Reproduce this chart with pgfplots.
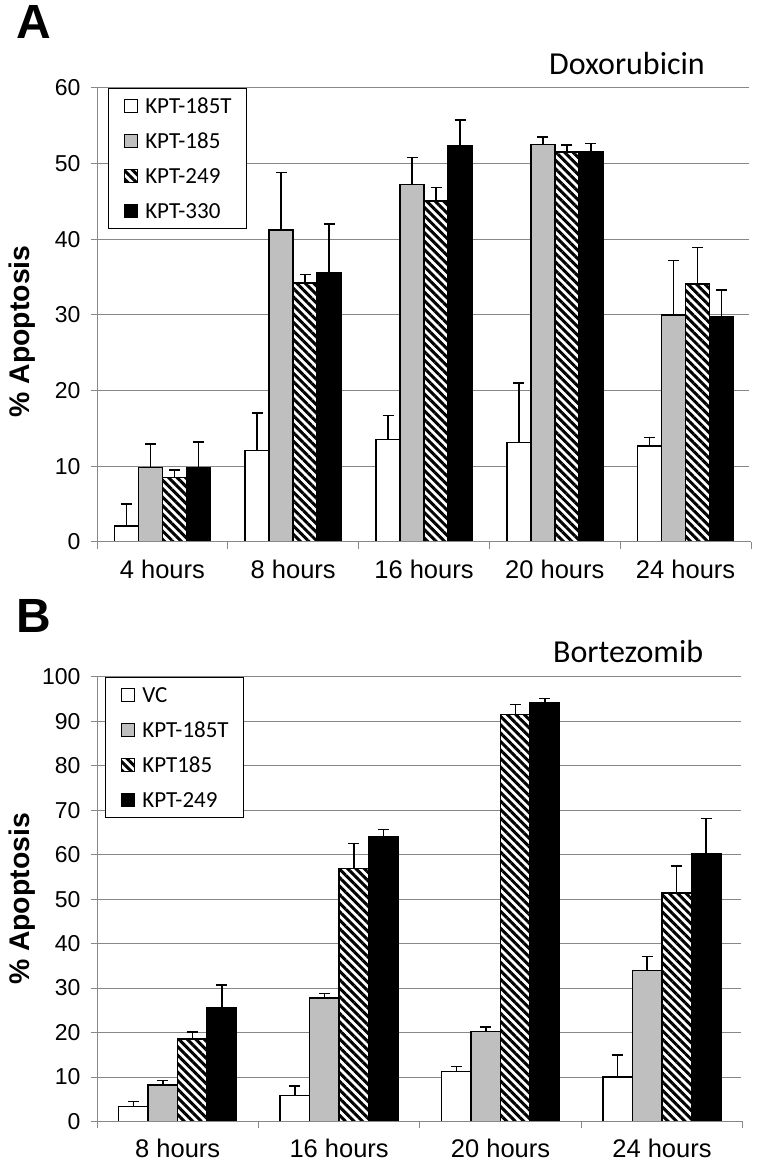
\documentclass[border=0pt]{standalone}
\usepackage{fontspec}
\setmainfont{Liberation Sans}
\newfontfamily\calibri{Carlito}
\usepackage{pgfplots}
\pgfplotsset{compat=1.18}
\usetikzlibrary{patterns.meta}
\definecolor{gridgray}{HTML}{888888}
\definecolor{bargray}{HTML}{BFBFBF}

\pgfplotsset{
  mybars/.style={
    scale only axis,
    ybar=0pt,
    ymin=0, xmin=-0.5,
    axis line style={draw opacity=0, line width=0.1pt},
    xtick pos=left, ytick pos=left,
    ymajorgrids, grid style={draw=gridgray, line width=1pt},
    tick align=outside,
    tick style={draw=gridgray, line width=1pt},
    major x tick style={draw=none, draw opacity=0},
    major tick length=6pt,
    /pgf/number format/assume math mode=true,
    yticklabel style={font=\fontsize{23}{23}\selectfont, xshift=-7pt},
    xticklabel style={font=\fontsize{25.5}{25.5}\selectfont, inner sep=0pt},
    error bars/y dir=plus, error bars/y explicit,
    error bars/error bar style={black, line width=1.5pt},
    error bars/error mark options={rotate=90, black, line width=1.5pt, mark size=5.5pt},
    legend image code/.code={\draw[##1, line width=1.2pt] (0pt,-6.9pt) rectangle (13.5pt,6.6pt);},
    legend cell align=left,
    legend style={draw=black, line width=1.2pt, anchor=north west,
      font=\calibri\fontsize{23}{23}\selectfont,
      nodes={inner sep=0pt, text height=19pt, text depth=4pt},
      row sep=12pt, inner ysep=6pt, inner xsep=15pt,
      /tikz/every odd column/.style={column sep=7pt}},
  },
  frame/.style={
    after end axis/.code={
      \draw[gridgray, line width=1pt] (rel axis cs:0,1) -- (rel axis cs:0,0) -- (rel axis cs:1,0);
      \foreach \b in {#1} {\draw[gridgray, line width=1pt] (axis cs:\b,0) -- ++(0pt,-7pt);}
    }
  },
  wbar/.style={draw=black, line width=1.5pt, fill=white},
  gbar/.style={draw=black, line width=1.5pt, fill=bargray},
  hbar/.style={draw=black, line width=1.5pt, fill=white,
    postaction={pattern={Lines[angle=-45,distance=6pt,line width=3pt]}}},
  kbar/.style={draw=black, line width=1.5pt, fill=black},
}

\begin{document}
\begin{tikzpicture}[x=1pt,y=1pt]
\path[use as bounding box] (0,0) rectangle (760,1166);

% Panel A
\begin{axis}[mybars, at={(97pt,624.1pt)}, anchor=south west,
  width=654pt, height=454.2pt, xmax=4.5, ymax=60,
  ytick={0,10,...,60},
  xtick={0,1,2,3,4},
  xticklabels={4 hours,8 hours,16 hours,20 hours,24 hours},
  xticklabel style={yshift=-12pt},
  frame={-0.5,0.5,1.5,2.5,3.5,4.5},
  bar width=24pt,
  legend style={at={(axis description cs:0.0168,1)}}]
\addplot[wbar] coordinates {(0,2.1) +- (0,2.9) (1,12.1) +- (0,4.9) (2,13.5) +- (0,3.2) (3,13.1) +- (0,7.9) (4,12.7) +- (0,1.1)};
\addplot[gbar] coordinates {(0,9.8) +- (0,3.1) (1,41.2) +- (0,7.6) (2,47.2) +- (0,3.6) (3,52.5) +- (0,1.0) (4,30.0) +- (0,7.2)};
\addplot[hbar] coordinates {(0,8.5) +- (0,1.0) (1,34.2) +- (0,1.1) (2,45.0) +- (0,1.8) (3,51.5) +- (0,0.9) (4,34.1) +- (0,4.8)};
\addplot[kbar] coordinates {(0,9.8) +- (0,3.4) (1,35.6) +- (0,6.4) (2,52.3) +- (0,3.4) (3,51.6) +- (0,1.0) (4,29.8) +- (0,3.5)};
\legend{KPT-185T,KPT-185,KPT-249,KPT-330}
\end{axis}

% Panel B
\begin{axis}[mybars, at={(97pt,44.5pt)}, anchor=south west,
  width=645.7pt, height=444.8pt, xmax=3.5, ymax=100,
  ytick={0,10,...,100},
  xtick={0,1,2,3},
  xticklabels={8 hours,16 hours,20 hours,24 hours},
  xticklabel style={yshift=-11pt},
  frame={-0.5,0.5,1.5,2.5,3.5},
  bar width=29.5pt,
  legend style={at={(axis description cs:0.0124,1)}}]
\addplot[wbar] coordinates {(0,3.4) +- (0,1.1) (1,5.9) +- (0,2.1) (2,11.2) +- (0,1.2) (3,10.0) +- (0,5.0)};
\addplot[gbar] coordinates {(0,8.2) +- (0,1.0) (1,27.8) +- (0,1.0) (2,20.2) +- (0,1.1) (3,33.9) +- (0,3.2)};
\addplot[hbar] coordinates {(0,18.6) +- (0,1.5) (1,56.9) +- (0,5.6) (2,91.5) +- (0,2.3) (3,51.4) +- (0,6.0)};
\addplot[kbar] coordinates {(0,25.6) +- (0,5.1) (1,64.0) +- (0,1.7) (2,94.2) +- (0,0.9) (3,60.1) +- (0,8.0)};
\legend{VC,KPT-185T,KPT185,KPT-249}
\end{axis}

% mask the right-hand frame edge (the reference has no right border)
\fill[white] (749.3,624.8) rectangle (760,1083);
\fill[white] (741.0,45.2) rectangle (760,494);

% Titles and labels
\node[anchor=base west, inner sep=0pt, font=\calibri\fontsize{32}{32}\selectfont] at (549,1091) {Doxorubicin};
\node[anchor=base west, inner sep=0pt, font=\calibri\fontsize{32}{32}\selectfont] at (553,503.3) {Bortezomib};
\node[anchor=base west, inner sep=0pt, font=\bfseries\fontsize{48}{48}\selectfont] at (16,1127) {A};
\node[anchor=base west, inner sep=0pt, font=\bfseries\fontsize{48}{48}\selectfont] at (16.5,533) {B};
\node[rotate=90, inner sep=0pt, font=\bfseries\fontsize{28.4}{28.4}\selectfont] at (22.5,834.5) {\% Apoptosis};
\node[rotate=90, inner sep=0pt, font=\bfseries\fontsize{28.4}{28.4}\selectfont] at (22.5,267) {\% Apoptosis};
\end{tikzpicture}
\end{document}
